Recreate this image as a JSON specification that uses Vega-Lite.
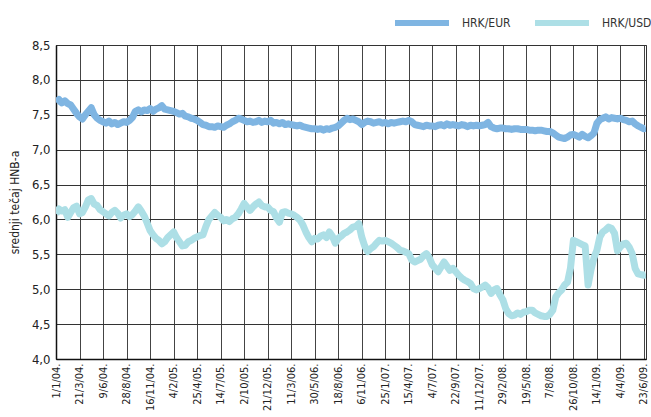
{
"$schema": "https://vega.github.io/schema/vega-lite/v6.json",
"width": 590, "height": 314,
"autosize": {"type": "none"},
"padding": {"left": 56, "top": 45, "right": 5, "bottom": 58},
"background": "white",
"config": {"font": "DejaVu Sans Condensed, Liberation Sans, sans-serif", "view": {"stroke": "#333", "strokeWidth": 1}},
"data": {"values": [
{"d":"2004-01-01","HRK/EUR":7.68,"HRK/USD":6.08},
{"d":"2004-01-11","HRK/EUR":7.72,"HRK/USD":6.15},
{"d":"2004-01-21","HRK/EUR":7.67,"HRK/USD":6.12},
{"d":"2004-01-31","HRK/EUR":7.70,"HRK/USD":6.14},
{"d":"2004-02-10","HRK/EUR":7.66,"HRK/USD":6.03},
{"d":"2004-02-20","HRK/EUR":7.64,"HRK/USD":6.10},
{"d":"2004-03-01","HRK/EUR":7.58,"HRK/USD":6.17},
{"d":"2004-03-11","HRK/EUR":7.52,"HRK/USD":6.19},
{"d":"2004-03-21","HRK/EUR":7.47,"HRK/USD":6.08},
{"d":"2004-03-31","HRK/EUR":7.44,"HRK/USD":6.10},
{"d":"2004-04-10","HRK/EUR":7.50,"HRK/USD":6.18},
{"d":"2004-04-20","HRK/EUR":7.55,"HRK/USD":6.28},
{"d":"2004-04-30","HRK/EUR":7.60,"HRK/USD":6.30},
{"d":"2004-05-10","HRK/EUR":7.50,"HRK/USD":6.22},
{"d":"2004-05-20","HRK/EUR":7.45,"HRK/USD":6.20},
{"d":"2004-05-30","HRK/EUR":7.42,"HRK/USD":6.14},
{"d":"2004-06-09","HRK/EUR":7.40,"HRK/USD":6.11},
{"d":"2004-06-19","HRK/EUR":7.38,"HRK/USD":6.08},
{"d":"2004-06-29","HRK/EUR":7.41,"HRK/USD":6.05},
{"d":"2004-07-09","HRK/EUR":7.37,"HRK/USD":6.10},
{"d":"2004-07-19","HRK/EUR":7.39,"HRK/USD":6.13},
{"d":"2004-07-29","HRK/EUR":7.36,"HRK/USD":6.09},
{"d":"2004-08-08","HRK/EUR":7.38,"HRK/USD":6.02},
{"d":"2004-08-18","HRK/EUR":7.40,"HRK/USD":6.06},
{"d":"2004-08-28","HRK/EUR":7.39,"HRK/USD":6.08},
{"d":"2004-09-07","HRK/EUR":7.42,"HRK/USD":6.04},
{"d":"2004-09-17","HRK/EUR":7.46,"HRK/USD":6.07},
{"d":"2004-09-27","HRK/EUR":7.55,"HRK/USD":6.12},
{"d":"2004-10-07","HRK/EUR":7.57,"HRK/USD":6.18},
{"d":"2004-10-17","HRK/EUR":7.54,"HRK/USD":6.12},
{"d":"2004-10-27","HRK/EUR":7.57,"HRK/USD":6.05},
{"d":"2004-11-06","HRK/EUR":7.56,"HRK/USD":5.95},
{"d":"2004-11-16","HRK/EUR":7.59,"HRK/USD":5.84},
{"d":"2004-11-26","HRK/EUR":7.55,"HRK/USD":5.78},
{"d":"2004-12-06","HRK/EUR":7.58,"HRK/USD":5.73},
{"d":"2004-12-16","HRK/EUR":7.60,"HRK/USD":5.70},
{"d":"2004-12-26","HRK/EUR":7.63,"HRK/USD":5.65},
{"d":"2005-01-05","HRK/EUR":7.58,"HRK/USD":5.68},
{"d":"2005-01-15","HRK/EUR":7.57,"HRK/USD":5.74},
{"d":"2005-01-25","HRK/EUR":7.56,"HRK/USD":5.78},
{"d":"2005-02-04","HRK/EUR":7.55,"HRK/USD":5.82},
{"d":"2005-02-14","HRK/EUR":7.53,"HRK/USD":5.74},
{"d":"2005-02-24","HRK/EUR":7.51,"HRK/USD":5.68},
{"d":"2005-03-06","HRK/EUR":7.52,"HRK/USD":5.62},
{"d":"2005-03-16","HRK/EUR":7.48,"HRK/USD":5.63},
{"d":"2005-03-26","HRK/EUR":7.47,"HRK/USD":5.68},
{"d":"2005-04-05","HRK/EUR":7.45,"HRK/USD":5.70},
{"d":"2005-04-15","HRK/EUR":7.44,"HRK/USD":5.73},
{"d":"2005-04-25","HRK/EUR":7.42,"HRK/USD":5.75},
{"d":"2005-05-05","HRK/EUR":7.39,"HRK/USD":5.77},
{"d":"2005-05-15","HRK/EUR":7.36,"HRK/USD":5.78},
{"d":"2005-05-25","HRK/EUR":7.35,"HRK/USD":5.90},
{"d":"2005-06-04","HRK/EUR":7.33,"HRK/USD":6.00},
{"d":"2005-06-14","HRK/EUR":7.33,"HRK/USD":6.05},
{"d":"2005-06-24","HRK/EUR":7.32,"HRK/USD":6.10},
{"d":"2005-07-04","HRK/EUR":7.34,"HRK/USD":6.06},
{"d":"2005-07-14","HRK/EUR":7.33,"HRK/USD":6.03},
{"d":"2005-07-24","HRK/EUR":7.32,"HRK/USD":5.98},
{"d":"2005-08-03","HRK/EUR":7.35,"HRK/USD":6.00},
{"d":"2005-08-13","HRK/EUR":7.37,"HRK/USD":5.97},
{"d":"2005-08-23","HRK/EUR":7.40,"HRK/USD":6.01},
{"d":"2005-09-02","HRK/EUR":7.42,"HRK/USD":6.03},
{"d":"2005-09-12","HRK/EUR":7.45,"HRK/USD":6.08},
{"d":"2005-09-22","HRK/EUR":7.44,"HRK/USD":6.15},
{"d":"2005-10-02","HRK/EUR":7.42,"HRK/USD":6.23},
{"d":"2005-10-12","HRK/EUR":7.40,"HRK/USD":6.18},
{"d":"2005-10-22","HRK/EUR":7.41,"HRK/USD":6.13},
{"d":"2005-11-01","HRK/EUR":7.39,"HRK/USD":6.18},
{"d":"2005-11-11","HRK/EUR":7.40,"HRK/USD":6.22},
{"d":"2005-11-21","HRK/EUR":7.42,"HRK/USD":6.25},
{"d":"2005-12-01","HRK/EUR":7.39,"HRK/USD":6.20},
{"d":"2005-12-11","HRK/EUR":7.41,"HRK/USD":6.18},
{"d":"2005-12-21","HRK/EUR":7.40,"HRK/USD":6.18},
{"d":"2005-12-31","HRK/EUR":7.42,"HRK/USD":6.13},
{"d":"2006-01-10","HRK/EUR":7.38,"HRK/USD":6.11},
{"d":"2006-01-20","HRK/EUR":7.39,"HRK/USD":6.02},
{"d":"2006-01-30","HRK/EUR":7.37,"HRK/USD":5.96},
{"d":"2006-02-09","HRK/EUR":7.39,"HRK/USD":6.10},
{"d":"2006-02-19","HRK/EUR":7.36,"HRK/USD":6.11},
{"d":"2006-03-01","HRK/EUR":7.37,"HRK/USD":6.09},
{"d":"2006-03-11","HRK/EUR":7.36,"HRK/USD":6.08},
{"d":"2006-03-21","HRK/EUR":7.35,"HRK/USD":6.06},
{"d":"2006-03-31","HRK/EUR":7.34,"HRK/USD":6.03},
{"d":"2006-04-10","HRK/EUR":7.35,"HRK/USD":5.99},
{"d":"2006-04-20","HRK/EUR":7.33,"HRK/USD":5.92},
{"d":"2006-04-30","HRK/EUR":7.32,"HRK/USD":5.82},
{"d":"2006-05-10","HRK/EUR":7.31,"HRK/USD":5.74},
{"d":"2006-05-20","HRK/EUR":7.30,"HRK/USD":5.68},
{"d":"2006-05-30","HRK/EUR":7.30,"HRK/USD":5.73},
{"d":"2006-06-09","HRK/EUR":7.29,"HRK/USD":5.72},
{"d":"2006-06-19","HRK/EUR":7.30,"HRK/USD":5.76},
{"d":"2006-06-29","HRK/EUR":7.28,"HRK/USD":5.78},
{"d":"2006-07-09","HRK/EUR":7.30,"HRK/USD":5.74},
{"d":"2006-07-19","HRK/EUR":7.29,"HRK/USD":5.82},
{"d":"2006-07-29","HRK/EUR":7.31,"HRK/USD":5.76},
{"d":"2006-08-08","HRK/EUR":7.32,"HRK/USD":5.66},
{"d":"2006-08-18","HRK/EUR":7.34,"HRK/USD":5.73},
{"d":"2006-08-28","HRK/EUR":7.38,"HRK/USD":5.76},
{"d":"2006-09-07","HRK/EUR":7.42,"HRK/USD":5.80},
{"d":"2006-09-17","HRK/EUR":7.45,"HRK/USD":5.82},
{"d":"2006-09-27","HRK/EUR":7.43,"HRK/USD":5.85},
{"d":"2006-10-07","HRK/EUR":7.44,"HRK/USD":5.89},
{"d":"2006-10-17","HRK/EUR":7.42,"HRK/USD":5.90},
{"d":"2006-10-27","HRK/EUR":7.40,"HRK/USD":5.94},
{"d":"2006-11-06","HRK/EUR":7.36,"HRK/USD":5.75},
{"d":"2006-11-16","HRK/EUR":7.39,"HRK/USD":5.62},
{"d":"2006-11-26","HRK/EUR":7.41,"HRK/USD":5.54},
{"d":"2006-12-06","HRK/EUR":7.40,"HRK/USD":5.58},
{"d":"2006-12-16","HRK/EUR":7.38,"HRK/USD":5.61},
{"d":"2006-12-26","HRK/EUR":7.39,"HRK/USD":5.66},
{"d":"2007-01-05","HRK/EUR":7.40,"HRK/USD":5.70},
{"d":"2007-01-15","HRK/EUR":7.38,"HRK/USD":5.69},
{"d":"2007-01-25","HRK/EUR":7.39,"HRK/USD":5.70},
{"d":"2007-02-04","HRK/EUR":7.37,"HRK/USD":5.68},
{"d":"2007-02-14","HRK/EUR":7.39,"HRK/USD":5.66},
{"d":"2007-02-24","HRK/EUR":7.38,"HRK/USD":5.63},
{"d":"2007-03-06","HRK/EUR":7.39,"HRK/USD":5.60},
{"d":"2007-03-16","HRK/EUR":7.40,"HRK/USD":5.56},
{"d":"2007-03-26","HRK/EUR":7.41,"HRK/USD":5.55},
{"d":"2007-04-05","HRK/EUR":7.40,"HRK/USD":5.53},
{"d":"2007-04-15","HRK/EUR":7.42,"HRK/USD":5.51},
{"d":"2007-04-25","HRK/EUR":7.40,"HRK/USD":5.42},
{"d":"2007-05-05","HRK/EUR":7.36,"HRK/USD":5.39},
{"d":"2007-05-15","HRK/EUR":7.35,"HRK/USD":5.41},
{"d":"2007-05-25","HRK/EUR":7.34,"HRK/USD":5.43},
{"d":"2007-06-04","HRK/EUR":7.33,"HRK/USD":5.48},
{"d":"2007-06-14","HRK/EUR":7.35,"HRK/USD":5.51},
{"d":"2007-06-24","HRK/EUR":7.34,"HRK/USD":5.45},
{"d":"2007-07-04","HRK/EUR":7.34,"HRK/USD":5.35},
{"d":"2007-07-14","HRK/EUR":7.33,"HRK/USD":5.30},
{"d":"2007-07-24","HRK/EUR":7.35,"HRK/USD":5.25},
{"d":"2007-08-03","HRK/EUR":7.36,"HRK/USD":5.32},
{"d":"2007-08-13","HRK/EUR":7.34,"HRK/USD":5.39},
{"d":"2007-08-23","HRK/EUR":7.37,"HRK/USD":5.33},
{"d":"2007-09-02","HRK/EUR":7.35,"HRK/USD":5.27},
{"d":"2007-09-12","HRK/EUR":7.36,"HRK/USD":5.30},
{"d":"2007-09-22","HRK/EUR":7.35,"HRK/USD":5.25},
{"d":"2007-10-02","HRK/EUR":7.34,"HRK/USD":5.20},
{"d":"2007-10-12","HRK/EUR":7.36,"HRK/USD":5.16},
{"d":"2007-10-22","HRK/EUR":7.35,"HRK/USD":5.13},
{"d":"2007-11-01","HRK/EUR":7.33,"HRK/USD":5.11},
{"d":"2007-11-11","HRK/EUR":7.35,"HRK/USD":5.08},
{"d":"2007-11-21","HRK/EUR":7.34,"HRK/USD":5.01},
{"d":"2007-12-01","HRK/EUR":7.35,"HRK/USD":4.99},
{"d":"2007-12-11","HRK/EUR":7.34,"HRK/USD":5.01},
{"d":"2007-12-21","HRK/EUR":7.35,"HRK/USD":5.03},
{"d":"2007-12-31","HRK/EUR":7.36,"HRK/USD":5.06},
{"d":"2008-01-10","HRK/EUR":7.39,"HRK/USD":5.02},
{"d":"2008-01-20","HRK/EUR":7.33,"HRK/USD":4.94},
{"d":"2008-01-30","HRK/EUR":7.31,"HRK/USD":4.99},
{"d":"2008-02-09","HRK/EUR":7.30,"HRK/USD":5.01},
{"d":"2008-02-19","HRK/EUR":7.31,"HRK/USD":4.92},
{"d":"2008-02-29","HRK/EUR":7.31,"HRK/USD":4.85},
{"d":"2008-03-10","HRK/EUR":7.30,"HRK/USD":4.72},
{"d":"2008-03-20","HRK/EUR":7.30,"HRK/USD":4.65},
{"d":"2008-03-30","HRK/EUR":7.29,"HRK/USD":4.62},
{"d":"2008-04-09","HRK/EUR":7.30,"HRK/USD":4.63},
{"d":"2008-04-19","HRK/EUR":7.30,"HRK/USD":4.66},
{"d":"2008-04-29","HRK/EUR":7.29,"HRK/USD":4.64},
{"d":"2008-05-09","HRK/EUR":7.29,"HRK/USD":4.67},
{"d":"2008-05-19","HRK/EUR":7.29,"HRK/USD":4.68},
{"d":"2008-05-29","HRK/EUR":7.28,"HRK/USD":4.70},
{"d":"2008-06-08","HRK/EUR":7.28,"HRK/USD":4.70},
{"d":"2008-06-18","HRK/EUR":7.27,"HRK/USD":4.66},
{"d":"2008-06-28","HRK/EUR":7.28,"HRK/USD":4.64},
{"d":"2008-07-08","HRK/EUR":7.28,"HRK/USD":4.62},
{"d":"2008-07-18","HRK/EUR":7.27,"HRK/USD":4.61},
{"d":"2008-07-28","HRK/EUR":7.26,"HRK/USD":4.61},
{"d":"2008-08-07","HRK/EUR":7.26,"HRK/USD":4.64},
{"d":"2008-08-17","HRK/EUR":7.24,"HRK/USD":4.70},
{"d":"2008-08-27","HRK/EUR":7.21,"HRK/USD":4.89},
{"d":"2008-09-06","HRK/EUR":7.18,"HRK/USD":4.95},
{"d":"2008-09-16","HRK/EUR":7.17,"HRK/USD":4.99},
{"d":"2008-09-26","HRK/EUR":7.16,"HRK/USD":5.06},
{"d":"2008-10-06","HRK/EUR":7.18,"HRK/USD":5.10},
{"d":"2008-10-16","HRK/EUR":7.21,"HRK/USD":5.30},
{"d":"2008-10-26","HRK/EUR":7.22,"HRK/USD":5.70},
{"d":"2008-11-05","HRK/EUR":7.20,"HRK/USD":5.68},
{"d":"2008-11-15","HRK/EUR":7.18,"HRK/USD":5.66},
{"d":"2008-11-25","HRK/EUR":7.22,"HRK/USD":5.64},
{"d":"2008-12-05","HRK/EUR":7.19,"HRK/USD":5.62},
{"d":"2008-12-15","HRK/EUR":7.17,"HRK/USD":5.06},
{"d":"2008-12-25","HRK/EUR":7.20,"HRK/USD":5.28},
{"d":"2009-01-04","HRK/EUR":7.24,"HRK/USD":5.45},
{"d":"2009-01-14","HRK/EUR":7.38,"HRK/USD":5.56},
{"d":"2009-01-24","HRK/EUR":7.43,"HRK/USD":5.75},
{"d":"2009-02-03","HRK/EUR":7.45,"HRK/USD":5.82},
{"d":"2009-02-13","HRK/EUR":7.47,"HRK/USD":5.85},
{"d":"2009-02-23","HRK/EUR":7.44,"HRK/USD":5.89},
{"d":"2009-03-05","HRK/EUR":7.46,"HRK/USD":5.87},
{"d":"2009-03-15","HRK/EUR":7.45,"HRK/USD":5.80},
{"d":"2009-03-25","HRK/EUR":7.44,"HRK/USD":5.55},
{"d":"2009-04-04","HRK/EUR":7.45,"HRK/USD":5.61},
{"d":"2009-04-14","HRK/EUR":7.43,"HRK/USD":5.65},
{"d":"2009-04-24","HRK/EUR":7.42,"HRK/USD":5.66},
{"d":"2009-05-04","HRK/EUR":7.40,"HRK/USD":5.60},
{"d":"2009-05-14","HRK/EUR":7.41,"HRK/USD":5.51},
{"d":"2009-05-24","HRK/EUR":7.37,"HRK/USD":5.30},
{"d":"2009-06-03","HRK/EUR":7.34,"HRK/USD":5.22},
{"d":"2009-06-13","HRK/EUR":7.32,"HRK/USD":5.21},
{"d":"2009-06-23","HRK/EUR":7.30,"HRK/USD":5.20},
{"d":"2009-06-30","HRK/EUR":7.31,"HRK/USD":5.21}
]},
"transform": [{"fold": ["HRK/EUR", "HRK/USD"], "as": ["serija", "tecaj"]}],
"mark": {"type": "line", "strokeWidth": 7, "strokeCap": "butt", "strokeJoin": "round", "clip": true},
"encoding": {
  "x": {"field": "d", "type": "temporal",
    "scale": {"type": "utc", "domain": [{"year": 2004, "month": 1, "date": 1, "utc": true}, {"year": 2009, "month": 6, "date": 30, "utc": true}]},
    "axis": {"title": null, "format": "%-d/%-m/%y.", "labelAngle": 270, "labelFontSize": 11, "labelColor": "#222", "labelPadding": 4,
      "ticks": false, "grid": true, "gridColor": "#444", "gridWidth": 1, "gridOpacity": 1, "domainColor": "#111", "domainWidth": 1.5, "labelOverlap": false, "labelFlush": false,
      "values": [
        {"year":2004,"month":1,"date":1,"utc":true},{"year":2004,"month":3,"date":21,"utc":true},{"year":2004,"month":6,"date":9,"utc":true},{"year":2004,"month":8,"date":28,"utc":true},{"year":2004,"month":11,"date":16,"utc":true},
        {"year":2005,"month":2,"date":4,"utc":true},{"year":2005,"month":4,"date":25,"utc":true},{"year":2005,"month":7,"date":14,"utc":true},{"year":2005,"month":10,"date":2,"utc":true},{"year":2005,"month":12,"date":21,"utc":true},
        {"year":2006,"month":3,"date":11,"utc":true},{"year":2006,"month":5,"date":30,"utc":true},{"year":2006,"month":8,"date":18,"utc":true},{"year":2006,"month":11,"date":6,"utc":true},
        {"year":2007,"month":1,"date":25,"utc":true},{"year":2007,"month":4,"date":15,"utc":true},{"year":2007,"month":7,"date":4,"utc":true},{"year":2007,"month":9,"date":22,"utc":true},{"year":2007,"month":12,"date":11,"utc":true},
        {"year":2008,"month":2,"date":29,"utc":true},{"year":2008,"month":5,"date":19,"utc":true},{"year":2008,"month":8,"date":7,"utc":true},{"year":2008,"month":10,"date":26,"utc":true},
        {"year":2009,"month":1,"date":14,"utc":true},{"year":2009,"month":4,"date":4,"utc":true},{"year":2009,"month":6,"date":23,"utc":true}
      ]}},
  "y": {"field": "tecaj", "type": "quantitative",
    "scale": {"domain": [4, 8.5], "nice": false, "zero": false},
    "axis": {"title": "srednji tečaj HNB-a", "titleFontSize": 12, "titleFontWeight": "normal", "titleColor": "#222", "titlePadding": 10,
      "values": [4, 4.5, 5, 5.5, 6, 6.5, 7, 7.5, 8, 8.5],
      "labelExpr": "replace(format(datum.value, '.1f'), '.', ',')",
      "labelFontSize": 13, "labelColor": "#222", "labelPadding": 6, "ticks": false,
      "grid": true, "gridColor": "#333", "gridWidth": 1, "gridOpacity": 1, "domainColor": "#111", "domainWidth": 1.5}},
  "color": {"field": "serija", "type": "nominal",
    "scale": {"domain": ["HRK/EUR", "HRK/USD"], "range": ["#7fb5e2", "#addfe6"]},
    "legend": {"title": null, "orient": "none", "direction": "horizontal", "legendX": 336, "legendY": -52,
      "symbolType": "stroke", "symbolSize": 2916, "symbolStrokeWidth": 6, "labelFontSize": 12, "labelColor": "#333",
      "labelOffset": 10, "columnPadding": 12}}
}
}
